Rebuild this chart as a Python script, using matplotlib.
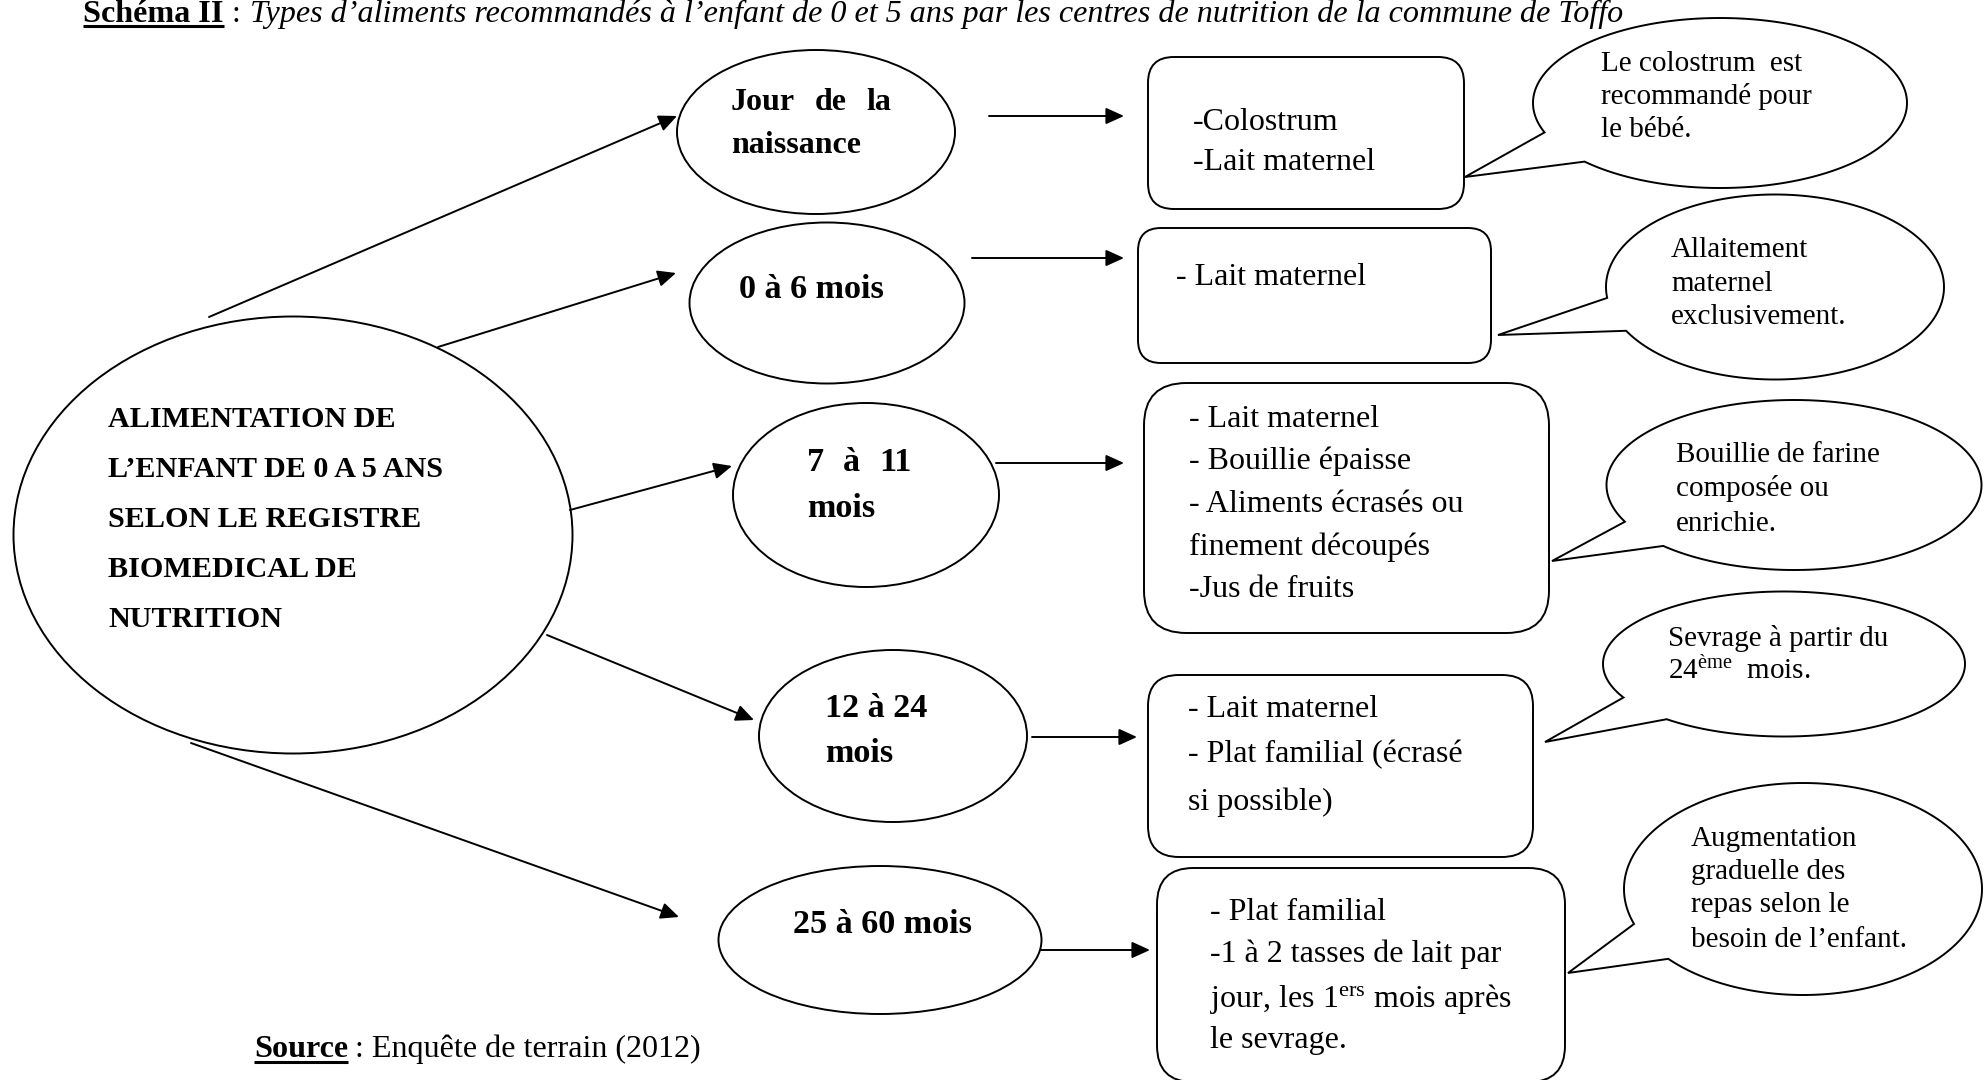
import numpy as np
import matplotlib
matplotlib.use("Agg")
import matplotlib.pyplot as plt
from matplotlib.patches import Ellipse, FancyBboxPatch, PathPatch
from matplotlib.path import Path

plt.rcParams['font.family'] = ['Liberation Serif', 'DejaVu Serif']
plt.rcParams['mathtext.fontset'] = 'custom'
plt.rcParams['mathtext.rm'] = 'Liberation Serif'
plt.rcParams['mathtext.it'] = 'Liberation Serif:italic'
plt.rcParams['mathtext.bf'] = 'Liberation Serif:bold'

# ---------------- text content ----------------
title_label = "Schéma II"
title_sep = ":"
title_text = ("Types d’aliments recommandés à l’enfant de 0 et 5 ans par les centres "
              "de nutrition de la commune de Toffo")
center_lines = ["ALIMENTATION DE", "L’ENFANT DE 0 A 5 ANS", "SELON LE REGISTRE",
                "BIOMEDICAL DE", "NUTRITION"]
age_groups = [["Jour de la", "naissance"], ["0 à 6 mois"], ["7 à 11", "mois"],
              ["12 à 24", "mois"], ["25 à 60 mois"]]
foods = [
    ["-Colostrum", "-Lait maternel"],
    ["- Lait maternel"],
    ["- Lait maternel", "- Bouillie épaisse", "- Aliments écrasés ou",
     "finement découpés", "-Jus de fruits"],
    ["- Lait maternel", "- Plat familial (écrasé", "si possible)"],
    ["- Plat familial", "-1 à 2 tasses de lait par",
     "jour, les 1$^{\\rm ers}$ mois après", "le sevrage."],
]
notes = [
    ["Le colostrum  est", "recommandé pour", "le bébé."],
    ["Allaitement", "maternel", "exclusivement."],
    ["Bouillie de farine", "composée ou", "enrichie."],
    ["Sevrage à partir du", "24$^{\\rm ème}$  mois."],
    ["Augmentation", "graduelle des", "repas selon le", "besoin de l’enfant."],
]
source_label = "Source"
source_text = ": Enquête de terrain (2012)"

# ---------------- layout (pixel space) ----------------
W, H = 1988, 1080
main_ell = (293, 535, 559, 437)
center_x = 108
center_base = [427, 477, 527, 577, 627]

age_ell = [(816, 132, 278, 164), (827, 303, 275, 161), (866, 495, 266, 184),
           (893, 736, 268, 172), (880, 940, 323, 148)]
age_x = [731, 739, 807, 825, 793]
age_base = [[110, 153], [298], [471, 517], [717, 762], [933]]
age_justify = [[160, None], [None], [105, None], [None, None], [None]]
age_fs = [23, 24.6, 24.6, 24.6, 24.6]

spoke_start = [(209, 317), (438, 347), (570, 510), (547, 635), (191, 743)]
spoke_end = [(677, 116), (676, 273), (732, 466), (754, 720), (679, 917)]

harr_y = [116, 258, 463, 737, 950]
harr_x0 = [989, 972, 996, 1032, 1041]
harr_x1 = [1124, 1124, 1124, 1137, 1150]

boxes = [(1148, 57, 1464, 209), (1138, 228, 1491, 363), (1144, 383, 1549, 633),
         (1148, 675, 1533, 857), (1157, 868, 1565, 1082)]
food_x = [1193, 1176, 1189, 1188, 1210]
food_base = [[130, 170], [285], [427, 469, 512, 555, 597], [717, 762, 810],
             [920, 962, 1007, 1048]]

note_ell = [(1720, 103, 374, 170), (1775, 287, 338, 185), (1794, 485, 375, 170),
            (1784, 664, 362, 145), (1803, 889, 358, 212)]
tail_b1 = [(1547, 132), (1606, 298), (1619, 523), (1621, 698), (1634, 924)]
tail_b2 = [(1586, 161), (1622, 332), (1661, 547), (1665, 720), (1668, 959)]
tail_tip = [(1465, 177), (1498, 335), (1552, 561), (1545, 742), (1568, 973)]
note_x = [1601, 1671, 1676, 1668, 1691]
note_base = [[71, 104, 137], [257, 291, 324], [462, 496, 531], [646, 679],
             [846, 879, 912, 947]]

LW = 1.4
FS_TITLE = 23.1
FS_CENTER = 21.7
FS_BOX = 23
FS_NOTE = 21

fig = plt.figure(figsize=(W / 100, H / 100), dpi=100)
ax = fig.add_axes([0, 0, 1, 1])
ax.set_xlim(0, W)
ax.set_ylim(H, 0)
ax.axis('off')
renderer = fig.canvas.get_renderer()


def text_width(t):
    bb = t.get_window_extent(renderer=renderer)
    return bb.width


def justified(x, y, line, width, **kw):
    words = line.split()
    if width is None or len(words) < 2:
        ax.text(x, y, line, va='baseline', ha='left', **kw)
        return
    ts = [ax.text(0, y, w, va='baseline', ha='left', **kw) for w in words]
    ws = [text_width(t) for t in ts]
    gap = (width - sum(ws)) / (len(words) - 1)
    cx = x
    for t, w in zip(ts, ws):
        t.set_x(cx)
        cx += w + gap


ARROW = dict(arrowstyle='-|>,head_length=0.55,head_width=0.25', lw=LW, color='black',
             shrinkA=0, shrinkB=0, mutation_scale=20)

# spokes from main ellipse
for (x0, y0), (x1, y1) in zip(spoke_start, spoke_end):
    ax.annotate('', xy=(x1, y1), xytext=(x0, y0), arrowprops=ARROW, zorder=3)

# main ellipse
cx, cy, w, h = main_ell
ax.add_patch(Ellipse((cx, cy), w, h, facecolor='white', edgecolor='black', lw=LW, zorder=2))
for line, yb in zip(center_lines, center_base):
    ax.text(center_x, yb, line, fontsize=FS_CENTER, fontweight='bold', va='baseline',
            ha='left', zorder=4)

# age ellipses and labels
for (cx, cy, w, h), lines, x, bases, justs, fs in zip(age_ell, age_groups, age_x, age_base,
                                                      age_justify, age_fs):
    ax.add_patch(Ellipse((cx, cy), w, h, facecolor='white', edgecolor='black', lw=LW, zorder=2))
    for line, yb, jw in zip(lines, bases, justs):
        justified(x, yb, line, jw, fontsize=fs, fontweight='bold', zorder=4)

# horizontal arrows
for y, x0, x1 in zip(harr_y, harr_x0, harr_x1):
    ax.annotate('', xy=(x1, y), xytext=(x0, y), arrowprops=ARROW, zorder=3)

# food boxes
for (x0, y0, x1, y1), lines, x, bases in zip(boxes, foods, food_x, food_base):
    bw, bh = x1 - x0, y1 - y0
    r = 0.17 * min(bw, bh)
    ax.add_patch(FancyBboxPatch((x0, y0), bw, bh,
                                boxstyle=f"round,pad=0,rounding_size={r}",
                                facecolor='white', edgecolor='black', lw=LW, zorder=2))
    for line, yb in zip(lines, bases):
        ax.text(x, yb, line, fontsize=FS_BOX, va='baseline', ha='left', zorder=4)


# callouts
def callout_path(cx, cy, w, h, b1, b2, tip):
    a, b = w / 2, h / 2
    t1 = np.arctan2((b1[1] - cy) / b, (b1[0] - cx) / a)
    t2 = np.arctan2((b2[1] - cy) / b, (b2[0] - cx) / a)
    d = (t1 - t2 + np.pi) % (2 * np.pi) - np.pi
    long_d = d - np.sign(d) * 2 * np.pi
    ts = t2 + np.linspace(0, long_d, 300)
    pts = np.column_stack([cx + a * np.cos(ts), cy + b * np.sin(ts)])
    pts = np.vstack([pts, [tip], pts[:1]])
    codes = [Path.MOVETO] + [Path.LINETO] * (len(pts) - 2) + [Path.CLOSEPOLY]
    return Path(pts, codes)


for (cx, cy, w, h), b1, b2, tip, lines, x, bases in zip(note_ell, tail_b1, tail_b2, tail_tip,
                                                       notes, note_x, note_base):
    p = callout_path(cx, cy, w, h, b1, b2, tip)
    ax.add_patch(PathPatch(p, facecolor='white', edgecolor='black', lw=LW, zorder=2,
                           joinstyle='miter'))
    for line, yb in zip(lines, bases):
        ax.text(x, yb, line, fontsize=FS_NOTE, va='baseline', ha='left', zorder=4)

# title
t_lab = ax.text(83, 22, title_label, fontsize=FS_TITLE, fontweight='bold',
                va='baseline', ha='left', zorder=4)
ax.text(232, 22, title_sep, fontsize=FS_TITLE, va='baseline', ha='left', zorder=4)
ax.text(250, 22, title_text, fontsize=FS_TITLE, style='italic', va='baseline',
        ha='left', zorder=4)

# source
s_lab = ax.text(254, 1057, source_label, fontsize=FS_TITLE, fontweight='bold',
                va='baseline', ha='left', zorder=4)
ax.text(355, 1057, source_text, fontsize=FS_TITLE, va='baseline', ha='left', zorder=4)

# underlines
for t, yl in [(t_lab, 25.5), (s_lab, 1062)]:
    wdt = text_width(t)
    x0 = t.get_position()[0]
    ax.plot([x0, x0 + wdt], [yl, yl], color='black', lw=2.2, solid_capstyle='butt', zorder=4)

fig.savefig("out.png", dpi=100)
